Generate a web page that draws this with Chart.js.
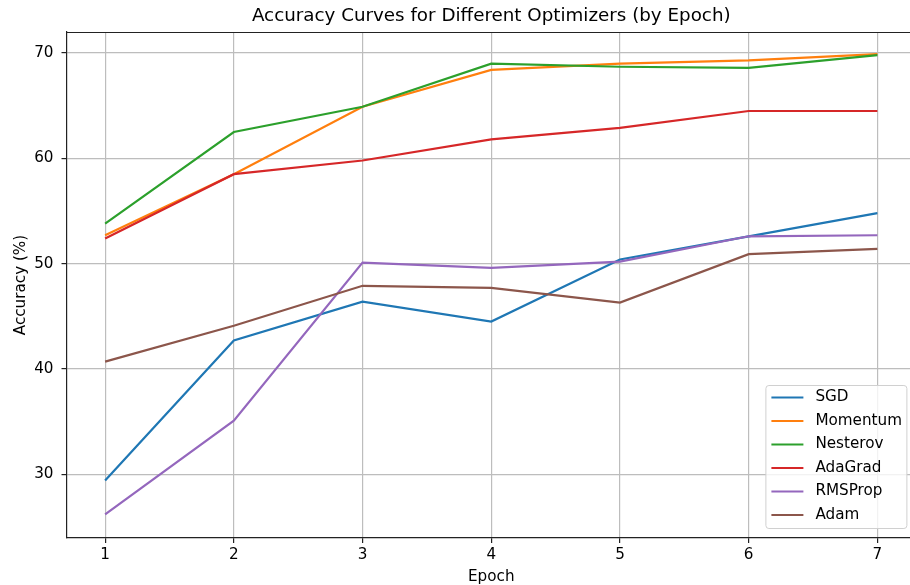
<!DOCTYPE html>
<html>
<head>
<meta charset="utf-8">
<title>Accuracy Curves</title>
<script src="https://cdn.jsdelivr.net/npm/chart.js@4.4.1/dist/chart.umd.min.js"></script>
<style>
  html, body { margin: 0; padding: 0; background: #fff; overflow: hidden; }
  #wrap { width: 910px; height: 585px; overflow: hidden; }
</style>
</head>
<body>
<div id="wrap">
  <canvas id="accChart" width="916" height="585"></canvas>
</div>
<script>
const epochs = [1, 2, 3, 4, 5, 6, 7];
const yTicks = [30, 40, 50, 60, 70];

const sgd      = [29.4, 42.7, 46.4, 44.5, 50.4, 52.6, 54.8];
const momentum = [52.7, 58.5, 64.9, 68.4, 69.0, 69.3, 69.9];
const nesterov = [53.8, 62.5, 64.9, 69.0, 68.7, 68.6, 69.8];
const adagrad  = [52.4, 58.5, 59.8, 61.8, 62.9, 64.5, 64.5];
const rmsprop  = [26.2, 35.1, 50.1, 49.6, 50.2, 52.6, 52.7];
const adam     = [40.7, 44.1, 47.9, 47.7, 46.3, 50.9, 51.4];

const names = ['SGD', 'Momentum', 'Nesterov', 'AdaGrad', 'RMSProp', 'Adam'];
const series = [sgd, momentum, nesterov, adagrad, rmsprop, adam];
const colors = ['#1f77b4', '#ff7f0e', '#2ca02c', '#d62728', '#9467bd', '#8c564b'];

const FONT = "'DejaVu Sans', sans-serif";
const LABEL_SIZE = 15.2;

// title, top spine and the boxed legend in the lower right corner
const decorations = {
    id: 'decorations',
    afterDraw(chart) {
        const ctx = chart.ctx;
        const area = chart.chartArea;
        ctx.save();

        ctx.strokeStyle = '#222';
        ctx.lineWidth = 1.2;
        ctx.beginPath();
        ctx.moveTo(area.left, area.top + 0.5);
        ctx.lineTo(area.right, area.top + 0.5);
        ctx.stroke();

        ctx.fillStyle = '#000';
        ctx.font = '18.3px ' + FONT;
        ctx.textAlign = 'center';
        ctx.textBaseline = 'middle';
        ctx.fillText('Accuracy Curves for Different Optimizers (by Epoch)', (area.left + area.right) / 2, 16);

        const boxW = 141, boxH = 143;
        const boxX = area.right - 9.6 - boxW;
        const boxY = area.bottom - 10 - boxH;
        ctx.fillStyle = 'rgba(255,255,255,0.8)';
        ctx.strokeStyle = '#d0d0d0';
        ctx.lineWidth = 1;
        ctx.beginPath();
        ctx.roundRect(boxX + 0.5, boxY + 0.5, boxW, boxH, 3);
        ctx.fill();
        ctx.stroke();

        ctx.font = LABEL_SIZE + 'px ' + FONT;
        ctx.textAlign = 'left';
        names.forEach((name, i) => {
            const y = boxY + 12.5 + i * 23.5;
            ctx.strokeStyle = colors[i];
            ctx.lineWidth = 2.2;
            ctx.beginPath();
            ctx.moveTo(boxX + 6, y);
            ctx.lineTo(boxX + 38, y);
            ctx.stroke();
            ctx.fillStyle = '#000';
            ctx.fillText(name, boxX + 50, y);
        });
        ctx.restore();
    }
};

const ctx = document.getElementById('accChart').getContext('2d');

const gridStyle = {
    color: '#bdbdbd',
    lineWidth: 1.2,
    tickColor: '#222',
    tickLength: 5,
    tickWidth: 1.2
};

new Chart(ctx, {
    type: 'line',
    data: {
        datasets: names.map((name, i) => ({
            label: name,
            data: epochs.map((e, j) => ({ x: e, y: series[i][j] })),
            borderColor: colors[i],
            backgroundColor: colors[i],
            borderWidth: 2.2,
            pointRadius: 0,
            tension: 0,
            fill: false,
            order: names.length - i
        }))
    },
    options: {
        responsive: false,
        animation: false,
        layout: { padding: { top: 32, left: 0, right: 0, bottom: 0 } },
        plugins: {
            legend: { display: false },
            title: { display: false },
            tooltip: { enabled: false }
        },
        scales: {
            x: {
                type: 'linear',
                min: 0.7,
                max: 7.3,
                afterBuildTicks: scale => { scale.ticks = epochs.map(v => ({ value: v })); },
                afterFit: scale => { scale.height = 47; },
                ticks: {
                    color: '#000',
                    padding: 3,
                    font: { family: FONT, size: LABEL_SIZE },
                    callback: v => String(v)
                },
                grid: gridStyle,
                border: { color: '#222', width: 1.2 },
                title: {
                    display: true,
                    text: 'Epoch',
                    color: '#000',
                    padding: { top: 0, bottom: 0.5 },
                    font: { family: FONT, size: LABEL_SIZE, lineHeight: 1.0 }
                }
            },
            y: {
                min: 23.95,
                max: 72.0,
                afterBuildTicks: scale => { scale.ticks = yTicks.map(v => ({ value: v })); },
                afterFit: scale => { scale.width = 66.5; },
                ticks: {
                    color: '#000',
                    padding: 8,
                    font: { family: FONT, size: LABEL_SIZE },
                    callback: v => String(v)
                },
                grid: gridStyle,
                border: { color: '#222', width: 1.2 },
                title: {
                    display: true,
                    text: 'Accuracy (%)',
                    color: '#000',
                    padding: { top: 13, bottom: 0 },
                    font: { family: FONT, size: LABEL_SIZE, lineHeight: 1.0 }
                }
            }
        }
    },
    plugins: [decorations]
});
</script>
</body>
</html>
